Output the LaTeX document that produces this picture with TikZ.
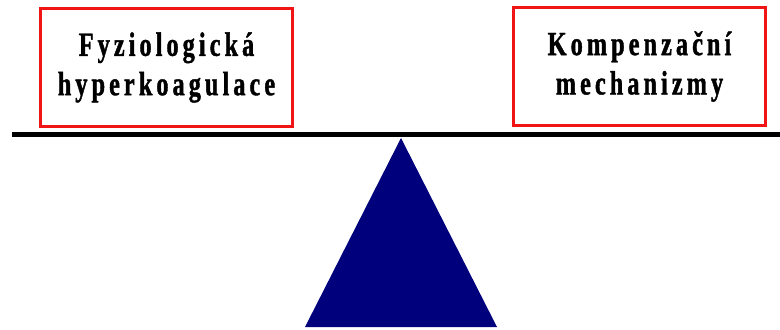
\documentclass[tikz,border=0pt]{standalone}
\usepackage{fontspec}
\newfontfamily\scalefont{Liberation Serif}[FakeStretch=0.72, LetterSpace=12, FakeBold=1.2]
\usepackage{tikz}

\begin{document}
\begin{tikzpicture}[
  x=0.025cm, y=-0.025cm,
  sidebox/.style={
    draw=boxred,
    line width=0.075cm,
    fill=white,
    minimum width=6.3cm,
    minimum height=2.95cm,
    font=\scalefont\bfseries\fontsize{24}{28}\selectfont,
    align=center,
    inner sep=2pt
  },
  beam/.style={
    line width=0.125cm
  }
]

\definecolor{boxred}{RGB}{240,20,20}
\definecolor{pivotcol}{RGB}{0,0,125}

\useasboundingbox (0,0) rectangle (780,329);

\node[sidebox] (left) at (166.5,67.5)
  {Fyziologická\\hyperkoagulace};
\node[sidebox] (right) at (639.5,66.5)
  {Kompenzační\\mechanizmy};

\coordinate (beamL) at (12,134.5);
\coordinate (beamR) at (780,134.5);
\draw[beam] (beamL) -- (beamR);

\coordinate (apex) at (401,138);
\fill[pivotcol] (apex) -- (305,327) -- (497,327) -- cycle;

\end{tikzpicture}
\end{document}
